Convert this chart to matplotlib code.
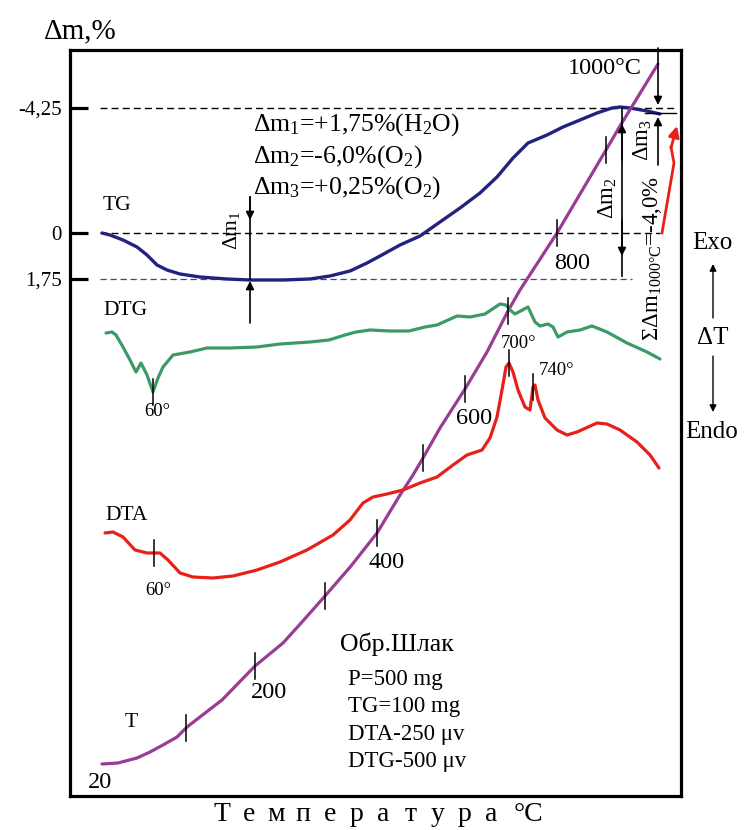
import numpy as np
import matplotlib
matplotlib.use("Agg")
import matplotlib.pyplot as plt

plt.rcParams['font.family'] = ['Liberation Serif', 'DejaVu Serif']
plt.rcParams['mathtext.fontset'] = 'custom'
plt.rcParams['mathtext.rm'] = 'Liberation Serif'
plt.rcParams['mathtext.it'] = 'Liberation Serif:italic'
plt.rcParams['mathtext.default'] = 'regular'

# кривые (x - время/положение, y - положение на графике)
tg_x = [102, 110, 123, 137, 147, 157, 167, 180, 200, 227, 250, 283, 310, 330, 350, 367, 380,
        400, 420, 440, 460, 480, 497, 513, 528, 547, 563, 580, 597, 612, 620, 630, 647, 660]
tg_y = [233, 235, 240, 247, 255, 265, 270, 274, 277, 279, 280, 280, 279, 276, 271, 263, 256,
        245, 236, 222, 208, 193, 177, 158, 143, 135, 127, 120, 113, 108, 107, 108, 111, 114]

t_x = [102, 118, 137, 150, 163, 177, 187, 222, 255, 283, 302, 325, 351, 377, 400, 413, 423,
       440, 465, 487, 508, 520, 557, 606, 620, 658]
t_y = [764, 763, 758, 752, 745, 737, 727, 700, 666, 643, 622, 596, 566, 533, 495, 475, 458,
       428, 389, 352, 311, 290, 233, 150, 126, 64]
t_ticks = [186, 255, 325, 377, 423, 465, 508, 557, 606]

dtg_x = [106, 112, 116, 123, 130, 136, 141, 147, 153, 158, 163, 173, 190, 207, 230, 257, 280,
         310, 329, 345, 356, 370, 390, 409, 425, 437, 457, 470, 485, 500, 506, 510, 515, 528,
         535, 540, 548, 553, 558, 567, 580, 592, 607, 627, 647, 660]
dtg_y = [333, 332, 335, 347, 360, 372, 363, 375, 392, 378, 367, 355, 352, 348, 348, 347, 344,
         342, 340, 335, 332, 330, 331, 331, 327, 325, 316, 317, 314, 304, 305, 310, 314, 307,
         322, 326, 324, 327, 337, 332, 330, 326, 332, 343, 352, 359]
dtg_ticks = [153]

dta_x = [105, 113, 123, 135, 147, 160, 168, 180, 193, 213, 233, 257, 280, 307, 333, 350, 363,
         373, 387, 403, 420, 437, 453, 467, 482, 490, 497, 502, 506, 509, 513, 518, 525, 530,
         533, 535, 538, 545, 557, 567, 577, 597, 607, 620, 637, 650, 659]
dta_y = [533, 532, 537, 550, 553, 553, 560, 573, 577, 578, 576, 570, 562, 550, 535, 520, 503,
         497, 494, 490, 483, 477, 465, 455, 450, 438, 417, 390, 367, 363, 372, 390, 407, 410,
         387, 385, 400, 418, 430, 435, 432, 423, 424, 430, 442, 455, 468]
dta_ticks = [154, 509, 533]

level_y = [108, 233, 279]
level_lbl = ['-4,25', '0', '1,75']

info = ['P=500 mg', 'TG=100 mg', 'DTA-250 μv', 'DTG-500 μv']
xlabel_chars = ['Т', 'е', 'м', 'п', 'е', 'р', 'а', 'т', 'у', 'р', 'а']

C_TG = '#23237f'
C_T = '#993d94'
C_DTG = '#3c9a66'
C_DTA = '#e8201a'


def marks(ax, xs, ys, pos, half=13):
    for x0 in pos:
        y0 = np.interp(x0, xs, ys)
        ax.plot([x0, x0], [y0 - half, y0 + half], color='k', lw=1.1)


def arrow(ax, tail, tip, lw=1.2, ms=12, color='k'):
    ax.annotate('', xy=tip, xytext=tail, annotation_clip=False,
                arrowprops=dict(arrowstyle='-|>', color=color, lw=lw,
                                mutation_scale=ms, shrinkA=0, shrinkB=0))


fig = plt.figure(figsize=(7.47, 8.30), dpi=100)
ax = fig.add_axes([70 / 747, 1 - 796 / 830, 611 / 747, 746 / 830])
ax.set_xlim(70, 681)
ax.set_ylim(796, 50)
for s in ax.spines.values():
    s.set_linewidth(2.3)
ax.set_xticks([])
ax.set_yticks(level_y)
ax.set_yticklabels(level_lbl, fontsize=15)
ax.tick_params(axis='y', direction='in', length=13, width=2.3, pad=6)

# уровни Δm
ax.plot([100, 676], [level_y[0]] * 2, color='k', lw=1.0, ls=(0, (5, 3)))
ax.plot([100, 660], [level_y[1]] * 2, color='k', lw=1.0, ls=(0, (5, 3)))
ax.plot([100, 632], [level_y[2]] * 2, color='#4b3f8f', lw=0.9, ls=(0, (5, 3)))

# кривые
ax.plot(tg_x, tg_y, color=C_TG, lw=2.4, solid_capstyle='round')
ax.plot(t_x, t_y, color=C_T, lw=2.3, solid_capstyle='round')
ax.plot(dtg_x, dtg_y, color=C_DTG, lw=2.3, solid_capstyle='round')
ax.plot(dta_x, dta_y, color=C_DTA, lw=2.3, solid_capstyle='round')

marks(ax, t_x, t_y, t_ticks)
marks(ax, dtg_x, dtg_y, dtg_ticks)
marks(ax, dta_x, dta_y, dta_ticks)

# подписи температуры
for s, x, y in [('20', 100, 782), ('200', 269, 692), ('400', 387, 562), ('600', 474, 418),
                ('800', 572, 263), ('1000°C', 605, 68)]:
    ax.text(x, y, s, fontsize=17.5, ha='center', va='center')
for s, x, y in [('60°', 157, 411), ('60°', 158, 590), ('700°', 519, 343), ('740°', 556, 370)]:
    ax.text(x, y, s, fontsize=13.5, ha='center', va='center')

for s, x, y in [('TG', 117, 205), ('DTG', 125, 310), ('DTA', 127, 515), ('T', 131, 722)]:
    ax.text(x, y, s, fontsize=15.5, ha='center', va='center')

# Δm1
ax.plot([250, 250], [197, 279], color='k', lw=1.2)
arrow(ax, (250, 197), (250, 220))
arrow(ax, (250, 323), (250, 281))
ax.text(231, 230, 'Δm$_1$', fontsize=15.5, rotation=90, ha='center', va='center')

# Δm2
ax.plot([622, 622], [108, 276], color='k', lw=1.2)
arrow(ax, (622, 160), (622, 124))
arrow(ax, (622, 220), (622, 256))
ax.text(608, 198, 'Δm$_2$', fontsize=16.5, rotation=90, ha='center', va='center')

# Δm3
ax.plot([645, 676], [113, 113], color='k', lw=1.0)
arrow(ax, (658, 48), (658, 105))
arrow(ax, (658, 165), (658, 117))
ax.text(643, 140, 'Δm$_3$', fontsize=16.5, rotation=90, ha='center', va='center')

# суммарная потеря
ax.text(653, 258, 'ΣΔm$_{1000°C}$=-4,0%', fontsize=16.5, rotation=90,
        ha='center', va='center')
ax.plot([662, 674, 671], [233, 163, 147], color=C_DTA, lw=2.0)
arrow(ax, (671, 148), (677, 126), lw=2.0, ms=16, color=C_DTA)

ax.text(253, 125, 'Δm$_1$=+1,75%(H$_2$O)', fontsize=18.5, ha='left', va='center')
ax.text(253, 157, 'Δm$_2$=-6,0%(O$_2$)', fontsize=18.5, ha='left', va='center')
ax.text(253, 188, 'Δm$_3$=+0,25%(O$_2$)', fontsize=18.5, ha='left', va='center')

ax.text(340, 644, 'Обр.Шлак', fontsize=18.5, ha='left', va='center')
for i, s in enumerate(info):
    ax.text(348, 679 + 27.5 * i, s, fontsize=16.5, ha='left', va='center')

# оси
ax.text(80, 31, 'Δm,%', fontsize=21, ha='center', va='center')
for i, ch in enumerate(xlabel_chars):
    ax.text(222 + 26.9 * i, 821, ch, fontsize=20, ha='center', va='baseline')
ax.text(528, 821, '°C', fontsize=20, ha='center', va='baseline')

ax.text(712, 243, 'Exo', fontsize=18, ha='center', va='center')
arrow(ax, (713, 318), (713, 264), lw=1.0, ms=10)
ax.text(713, 338, 'ΔT', fontsize=18, ha='center', va='center')
arrow(ax, (713, 356), (713, 412), lw=1.0, ms=10)
ax.text(712, 432, 'Endo', fontsize=18, ha='center', va='center')

fig.savefig('out.png', dpi=100)
